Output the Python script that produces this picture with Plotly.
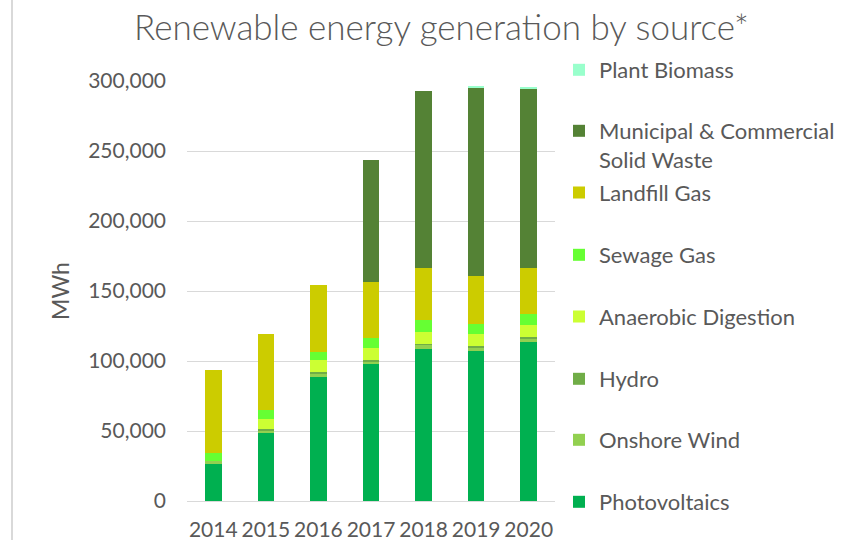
import plotly.graph_objects as go

years = ["2014", "2015", "2016", "2017", "2018", "2019", "2020"]

photovoltaics = [26700, 48300, 88900, 97800, 108700, 107500, 113400]
onshore_wind = [1600, 1700, 2000, 1900, 2800, 2100, 2600]
hydro = [0, 1200, 1300, 1200, 900, 950, 1200]
anaerobic_digestion = [0, 7100, 8300, 8300, 8600, 8800, 8600]
sewage_gas = [5700, 6700, 5900, 6900, 8100, 7100, 7800]
landfill_gas = [59600, 54200, 48000, 40600, 37100, 34400, 32500]
municipal_waste = [0, 0, 0, 86700, 126800, 134700, 128500]
plant_biomass = [0, 0, 0, 0, 0, 700, 1000]

series_names = ["Photovoltaics", "Onshore Wind", "Hydro", "Anaerobic Digestion",
                "Sewage Gas", "Landfill Gas", "Municipal & Commercial<br>Solid Waste",
                "Plant Biomass"]
series_values = [photovoltaics, onshore_wind, hydro, anaerobic_digestion,
                 sewage_gas, landfill_gas, municipal_waste, plant_biomass]
series_colors = ["#00B050", "#92D050", "#70AD47", "#CCFF33",
                 "#66FF33", "#CCCC00", "#548235", "#99FFCC"]

FONT = "Lato"
GREY = "#595959"

# plot area geometry (pixels)
W, H = 863, 540
ML, MR, MT, MB = 187, 308, 81, 39
PH = H - MT - MB


def py_to_paper(py):
    return (H - MB - py) / PH


legend_pixel_y = [502, 440, 379, 316.7, 255, 192.7, 145.5, 70]

fig = go.Figure()
layout_legends = {"showlegend": True}
for i, (name, vals, col) in enumerate(zip(series_names, series_values, series_colors)):
    key = f"legend{i+2}"
    fig.add_trace(go.Bar(
        x=years, y=vals, name=name, legend=key,
        marker=dict(color=col, line=dict(width=0)),
    ))
    layout_legends[key] = dict(
        x=(559 - ML) / (W - ML - MR), xanchor="left",
        y=py_to_paper(legend_pixel_y[i]), yanchor="middle",
        font=dict(family=FONT, size=22, color=GREY),
        bgcolor="rgba(0,0,0,0)",
        valign="top",
        itemclick=False, itemdoubleclick=False,
    )

fig.update_layout(
    width=W, height=H,
    margin=dict(l=ML, r=MR, t=MT, b=MB, autoexpand=False),
    barmode="stack",
    bargap=0.686,
    plot_bgcolor="white",
    paper_bgcolor="white",
    title=dict(
        text="Renewable energy generation by source*",
        x=441.5 / W, xanchor="center",
        y=1 - 28 / H, yanchor="middle",
        font=dict(family=FONT, size=35, color=GREY, weight=300),
    ),
    xaxis=dict(
        tickfont=dict(family=FONT, size=21, color=GREY),
        showgrid=False, ticks="", showline=False,
        ticklabelstandoff=14, automargin=False,
    ),
    yaxis=dict(
        range=[0, 300000], dtick=50000, tickformat=",d",
        tickfont=dict(family=FONT, size=21, color=GREY),
        gridcolor="#D9D9D9", gridwidth=1,
        zeroline=True, zerolinecolor="#D9D9D9", zerolinewidth=1,
        showline=False, ticks="",
        ticklabelstandoff=20, automargin=False,
        title=dict(text="MWh", font=dict(family=FONT, size=23, color=GREY), standoff=12),
    ),
    shapes=[dict(type="line", xref="paper", yref="paper",
                 x0=(12 - ML) / (W - ML - MR), x1=(12 - ML) / (W - ML - MR),
                 y0=py_to_paper(0), y1=py_to_paper(540),
                 line=dict(color="#D9D9D9", width=2))],
    **layout_legends,
)

fig.write_html("out.html", config={"displayModeBar": False},
               post_script="document.body.style.margin='0';")
